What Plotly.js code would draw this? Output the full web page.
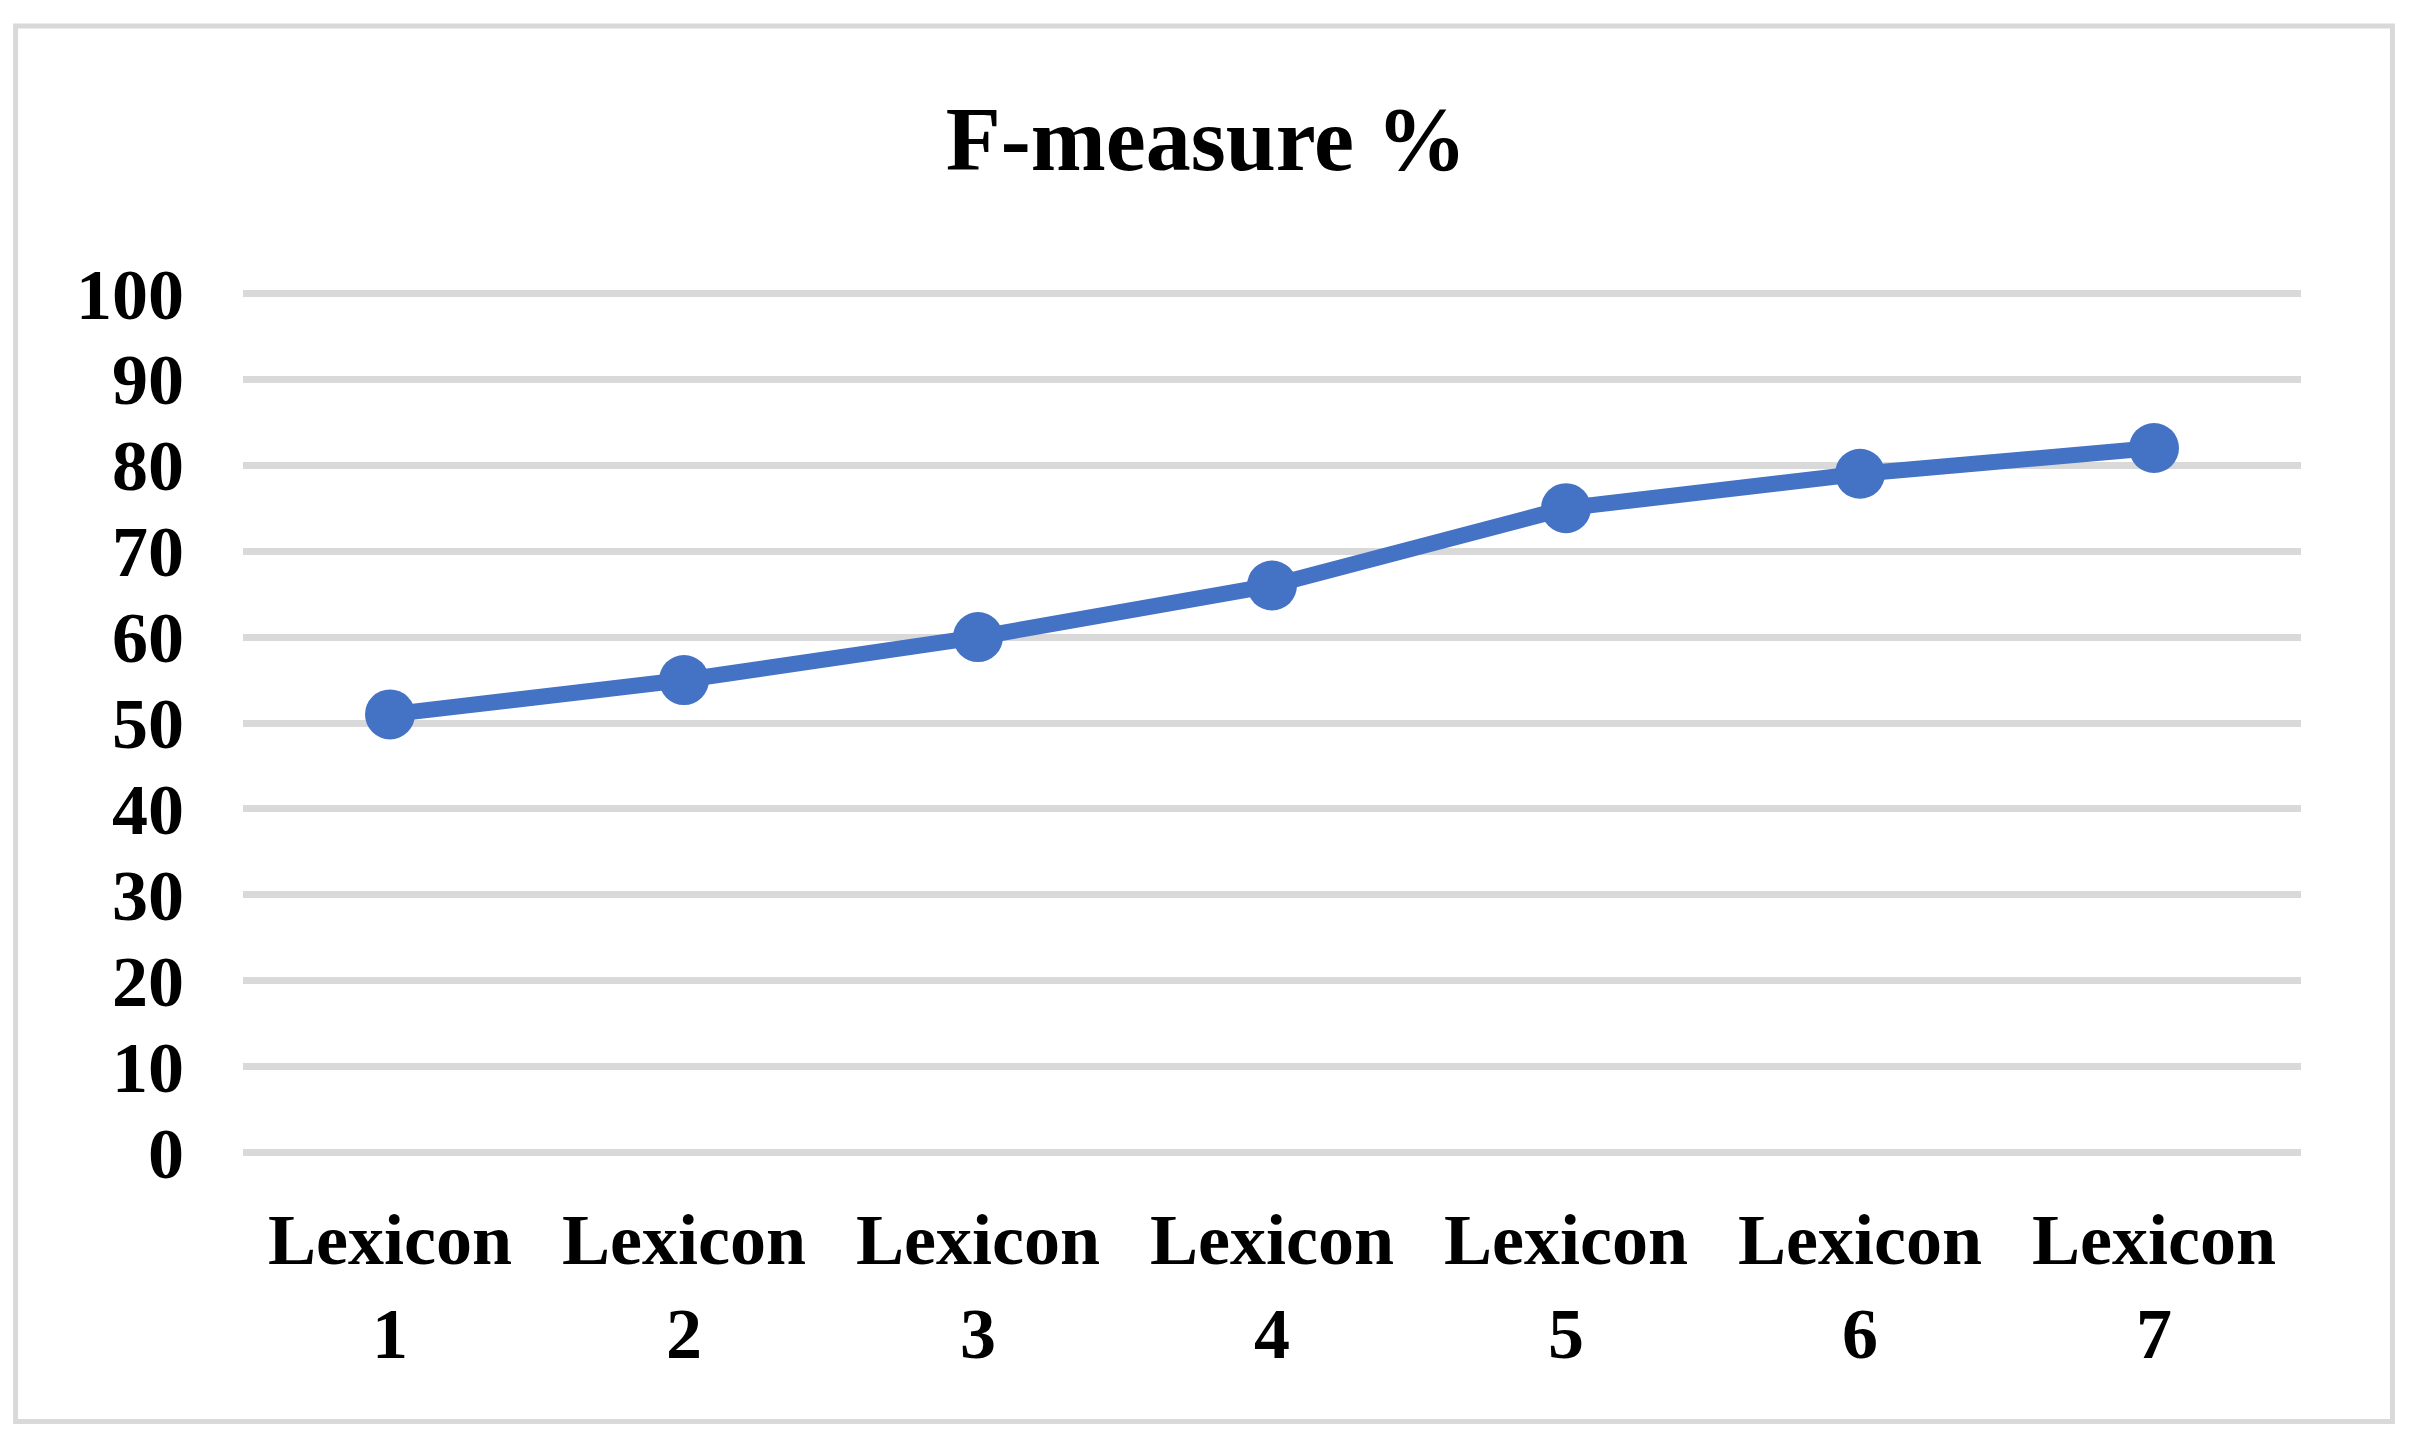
<!DOCTYPE html>
<html>
<head>
<meta charset="utf-8">
<script src="https://cdn.plot.ly/plotly-3.0.1.min.js"></script>
<style>
html, body { margin: 0; padding: 0; background: #ffffff; }
#chart { width: 2422px; height: 1437px; }
</style>
</head>
<body>
<div id="chart"></div>
<script>
const categories = ["Lexicon<br>1", "Lexicon<br>2", "Lexicon<br>3", "Lexicon<br>4", "Lexicon<br>5", "Lexicon<br>6", "Lexicon<br>7"];
const fMeasure = [51, 55, 60, 66, 75, 79, 82];
const yTicks = [0, 10, 20, 30, 40, 50, 60, 70, 80, 90, 100];
const chartTitle = "F-measure %";

const fontFamily = '"Liberation Serif", "Times New Roman", serif';

const trace = {
  type: 'scatter',
  mode: 'lines+markers',
  x: categories,
  y: fMeasure,
  line: { color: '#4472C4', width: 16 },
  marker: { color: '#4472C4', size: 50 },
  hoverinfo: 'x+y'
};

const layout = {
  width: 2422,
  height: 1437,
  paper_bgcolor: '#ffffff',
  plot_bgcolor: '#ffffff',
  showlegend: false,
  margin: { l: 242.5, r: 120.5, t: 289, b: 280.4, pad: 0 },
  title: {
    text: '<b>' + chartTitle + '</b>',
    font: { family: fontFamily, size: 90, color: '#000000' },
    x: 0.498, xref: 'container', xanchor: 'center',
    y: 1 - 138 / 1437, yref: 'container', yanchor: 'middle'
  },
  xaxis: {
    type: 'category',
    range: [-0.5, 6.5],
    showgrid: false,
    zeroline: false,
    showline: false,
    ticks: '',
    tickfont: { family: fontFamily, size: 72, color: '#000000', weight: 'bold' },
    ticklabelstandoff: 34,
    fixedrange: true
  },
  yaxis: {
    range: [-0.5, 100.5],
    tickmode: 'array',
    tickvals: yTicks,
    ticktext: yTicks.map(String),
    showgrid: true,
    gridcolor: '#d9d9d9',
    gridwidth: 7,
    zeroline: false,
    showline: false,
    ticks: '',
    tickfont: { family: fontFamily, size: 72, color: '#000000', weight: 'bold' },
    ticklabelstandoff: 58,
    fixedrange: true
  },
  shapes: [{
    type: 'rect',
    xref: 'paper', yref: 'paper',
    x0: (15 - 242.5) / 2059, x1: (2393 - 242.5) / 2059,
    y0: (1156.6 - 1421) / 867.6, y1: (1156.6 - 26) / 867.6,
    line: { color: '#d9d9d9', width: 5 },
    fillcolor: 'rgba(0,0,0,0)',
    layer: 'below'
  }]
};

Plotly.newPlot('chart', [trace], layout, { displayModeBar: false, staticPlot: true });
</script>
</body>
</html>
